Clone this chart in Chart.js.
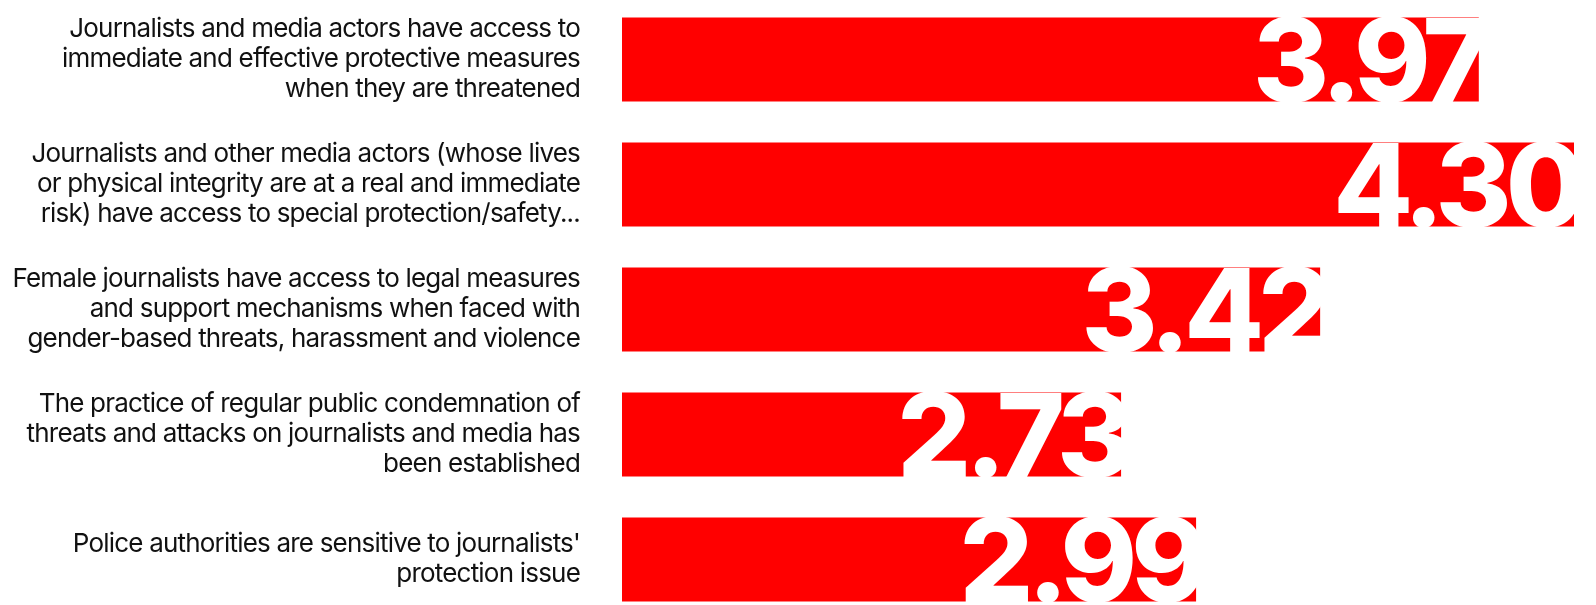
<!DOCTYPE html>
<html>
<head>
<meta charset="utf-8">
<script src="https://cdn.jsdelivr.net/npm/chart.js@4.4.1/dist/chart.umd.min.js"></script>
<style>
  html, body { margin: 0; padding: 0; background: #fff; overflow: hidden; }
  #wrap { position: absolute; left: 0; top: -3px; width: 1596px; height: 625px; }
</style>
</head>
<body>
<div id="wrap"><canvas id="c"></canvas></div>
<script>
const categories = [
  ["Journalists and media actors have access to", "immediate and effective protective measures", "when they are threatened"],
  ["Journalists and other media actors (whose lives", "or physical integrity are at a real and immediate", "risk) have access to special protection/safety..."],
  ["Female journalists have access to legal measures", "and support mechanisms when faced with", "gender-based threats, harassment and violence"],
  ["The practice of regular public condemnation of", "threats and attacks on journalists and media has", "been established"],
  ["Police authorities are sensitive to journalists'", "protection issue"]
];
const values = [3.97, 4.30, 3.42, 2.73, 2.99];
const valueLabels = ["3.97", "4.30", "3.42", "2.73", "2.99"];
const axisMin = 1;
const axisMax = 4.3;

const tracking = {
  id: 'tracking',
  beforeDraw(chart) {
    try { chart.ctx.letterSpacing = '-0.8px'; } catch (e) {}
  }
};

const bigLabels = {
  id: 'bigLabels',
  afterDatasetsDraw(chart) {
    const ctx = chart.ctx;
    const meta = chart.getDatasetMeta(0);
    ctx.save();
    ctx.fillStyle = '#ffffff';
    ctx.font = '800 116px Inter';
    ctx.textAlign = 'right';
    ctx.textBaseline = 'alphabetic';
    try { ctx.letterSpacing = '-6px'; } catch (e) {}
    meta.data.forEach((bar, i) => {
      ctx.fillText(valueLabels[i], bar.x + 6, bar.y + bar.height / 2);
    });
    ctx.restore();
  }
};

new Chart(document.getElementById('c'), {
  type: 'bar',
  data: {
    labels: categories,
    datasets: [{
      data: values,
      backgroundColor: '#ff0000',
      borderWidth: 0,
      barPercentage: 0.672,
      categoryPercentage: 1.0
    }]
  },
  options: {
    indexAxis: 'y',
    responsive: true,
    maintainAspectRatio: false,
    animation: false,
    layout: { padding: { left: 0, right: 22, top: 0, bottom: 0 } },
    plugins: { legend: { display: false }, tooltip: { enabled: false } },
    scales: {
      x: { display: false, min: axisMin, max: axisMax },
      y: {
        grid: { display: false, drawTicks: false },
        border: { display: false },
        ticks: {
          color: '#111111',
          padding: 42,
          font: { family: 'Inter', size: 26, lineHeight: 1.15 }
        },
        afterFit(scale) {
          scale.width = 622;
          scale.paddingTop = 0;
          scale.paddingBottom = 0;
        }
      }
    }
  },
  plugins: [tracking, bigLabels]
});
</script>
</body>
</html>
